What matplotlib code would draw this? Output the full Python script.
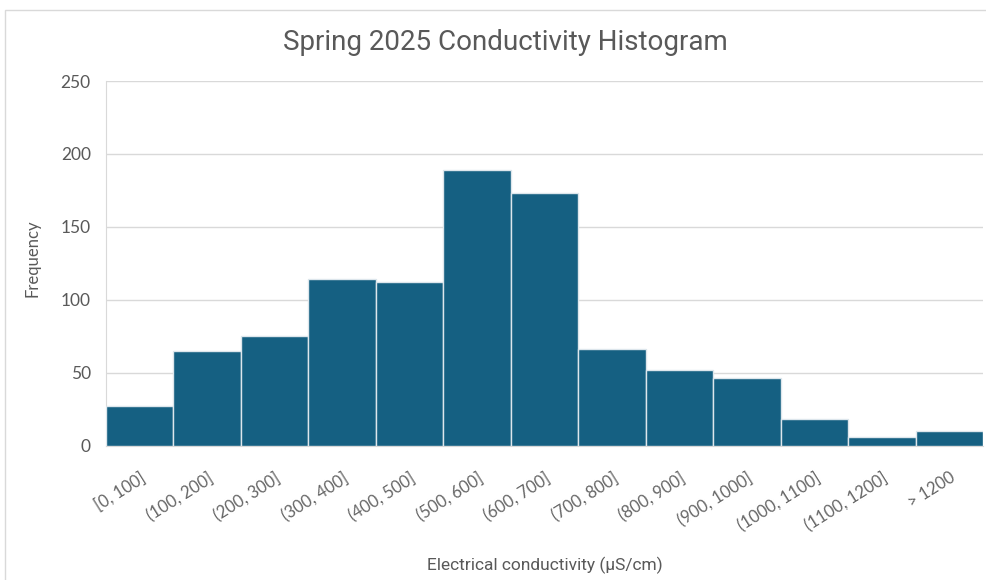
import matplotlib
matplotlib.use("Agg")
import matplotlib.pyplot as plt
from matplotlib.patches import Rectangle

bins = ["[0, 100]", "(100, 200]", "(200, 300]", "(300, 400]", "(400, 500]",
        "(500, 600]", "(600, 700]", "(700, 800]", "(800, 900]", "(900, 1000]",
        "(1000, 1100]", "(1100, 1200]", "> 1200"]
counts = [27, 65, 75, 114, 112, 189, 173, 66, 52, 46, 18, 6, 10]
yticks = [0, 50, 100, 150, 200, 250]

plt.rcParams["font.family"] = ["Lato", "DejaVu Sans"]

gray = "#595959"
bar_color = "#156082"

fig = plt.figure(figsize=(9.86, 5.8), dpi=100)
# light chart-area frame
fig.patches.append(Rectangle((5 / 986, -0.02), 1.0, 1 - 10 / 580 + 0.02,
                             transform=fig.transFigure, fill=False,
                             edgecolor="#D9D9D9", linewidth=1.0))

ax = fig.add_axes([106 / 986, 1 - 445.5 / 580, (983 - 106) / 986, (445.5 - 81) / 580])
x = range(len(bins))
ax.bar(x, counts, width=1.0, color=bar_color, edgecolor="#DDE6EC", linewidth=1.0, zorder=3)
ax.set_xlim(-0.5, len(bins) - 0.5)
ax.set_ylim(0, 250)
ax.set_yticks(yticks)
ax.yaxis.grid(True, color="#D9D9D9", linewidth=1.0, zorder=0)
ax.tick_params(axis="both", length=0, colors=gray)
ax.tick_params(axis="y", pad=11, labelsize=12.5)
ax.tick_params(axis="x", pad=17)
ax.set_xticks(list(x))
ax.set_xticklabels(bins, rotation=32, ha="right", va="top", rotation_mode="anchor",
                   fontsize=12, color="#666666")
for s in ["top", "right"]:
    ax.spines[s].set_visible(False)
ax.spines["left"].set_color("#D9D9D9")
ax.spines["bottom"].set_color("#D9D9D9")

fig.text(505 / 986, 1 - 43 / 580, "Spring 2025 Conductivity Histogram", ha="center",
         va="center", fontsize=20, color=gray, family=["Roboto", "DejaVu Sans"])
fig.text(33 / 986, 1 - 258 / 580, "Frequency", rotation=90, ha="center", va="center",
         fontsize=12, color=gray)
fig.text(545 / 986, 1 - 565 / 580, "Electrical conductivity (µS/cm)", ha="center",
         va="center", fontsize=12.5, color=gray, family=["Roboto", "DejaVu Sans"])

fig.savefig("out.png", dpi=100)
